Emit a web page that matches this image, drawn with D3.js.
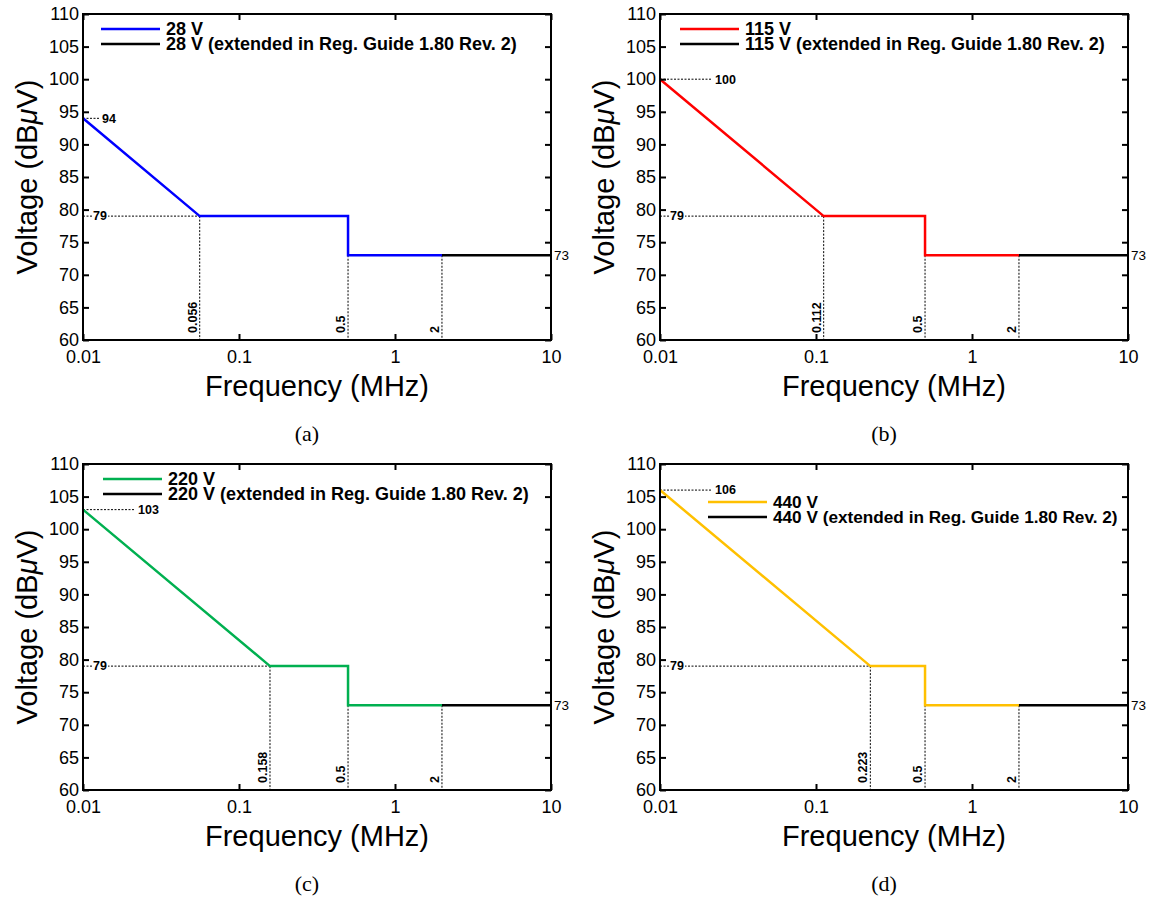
<!DOCTYPE html>
<html>
<head>
<meta charset="utf-8">
<script src="https://cdn.jsdelivr.net/npm/d3@7"></script>
<style>
  body { margin: 0; background: #fff; }
  svg { display: block; font-family: "Liberation Sans", Arial, Helvetica, sans-serif; }
</style>
</head>
<body>
<svg></svg>
<script>
// ---------- data ----------
const captions = ['(a)', '(b)', '(c)', '(d)'];
const voltages = ['28 V', '115 V', '220 V', '440 V'];
const startLevels = [94, 100, 103, 106];          // dBuV at 0.01 MHz
const cornerFreqs = [0.056, 0.112, 0.158, 0.223]; // MHz where the slope reaches 79
const seriesColors = ['#0000ff', '#ff0000', '#00b050', '#ffc000'];
const flatLevel = 79;
const stepFreq = 0.5;
const lowLevel = 73;
const extFreq = 2;
const freqRange = [0.01, 10];
const voltRange = [60, 110];
const xTicks = [0.01, 0.1, 1, 10];
const xTickLabels = ['0.01', '0.1', '1', '10'];
const yTicks = [60, 65, 70, 75, 80, 85, 90, 95, 100, 105, 110];

// ---------- layout ----------
const size = {w: 1149, h: 898};
const plot = {w: 468, h: 326};
const origins = [[83, 14], [660, 14], [83, 464], [660, 464]];
const legendPos = [[18, 15], [20, 15], [20, 15], [48, 38]];
const legendFont = [18, 18, 18, 17.2];
const startLabelLen = [16, 52, 52, 52];

const svg = d3.select('svg')
    .attr('width', size.w)
    .attr('height', size.h);

const x = d3.scaleLog().domain(freqRange).range([0, plot.w]);
const y = d3.scaleLinear().domain(voltRange).range([plot.h, 0]);

const line = d3.line()
    .x(d => x(d[0]))
    .y(d => y(d[1]));

captions.forEach((cap, i) => {
    const g = svg.append('g')
        .attr('transform', `translate(${origins[i][0]},${origins[i][1]})`);

    // limit curve, built from the values above
    const main = [
        [freqRange[0], startLevels[i]],
        [cornerFreqs[i], flatLevel],
        [stepFreq, flatLevel],
        [stepFreq, lowLevel],
        [extFreq, lowLevel]
    ];
    const ext = [[extFreq, lowLevel], [freqRange[1], lowLevel]];

    // dotted guide lines
    const guides = g.append('g')
        .attr('stroke', '#000')
        .attr('stroke-width', 1)
        .attr('stroke-dasharray', '2,1.5')
        .attr('fill', 'none');

    guides.append('line')
        .attr('x1', 0).attr('x2', startLabelLen[i])
        .attr('y1', y(startLevels[i])).attr('y2', y(startLevels[i]));
    guides.append('line')
        .attr('x1', 0).attr('x2', x(cornerFreqs[i]))
        .attr('y1', y(flatLevel)).attr('y2', y(flatLevel));

    const verticals = [
        {f: cornerFreqs[i], v: flatLevel},
        {f: stepFreq, v: lowLevel},
        {f: extFreq, v: lowLevel}
    ];
    guides.selectAll('.vguide')
        .data(verticals)
        .join('line')
        .attr('x1', d => x(d.f)).attr('x2', d => x(d.f))
        .attr('y1', d => y(d.v)).attr('y2', plot.h);

    g.selectAll('.vlabel')
        .data(verticals)
        .join('text')
        .attr('transform', d => `translate(${x(d.f) - 3},${plot.h - 7}) rotate(-90)`)
        .attr('font-size', 12.5)
        .attr('font-weight', 'bold')
        .text(d => d.f);

    // start level label
    g.append('text')
        .attr('x', startLabelLen[i] + 3)
        .attr('y', y(startLevels[i]))
        .attr('dy', '0.35em')
        .attr('font-size', 12.5)
        .attr('font-weight', 'bold')
        .text(startLevels[i]);

    // 79 label sitting on its dotted line
    g.append('rect')
        .attr('x', 9).attr('y', y(flatLevel) - 6)
        .attr('width', 16).attr('height', 12)
        .attr('fill', '#fff');
    g.append('text')
        .attr('x', 10)
        .attr('y', y(flatLevel))
        .attr('dy', '0.35em')
        .attr('font-size', 12.5)
        .attr('font-weight', 'bold')
        .text(flatLevel);

    // 73 label outside the right edge
    g.append('text')
        .attr('x', plot.w + 3)
        .attr('y', y(lowLevel))
        .attr('dy', '0.35em')
        .attr('font-size', 13.5)
        .text(lowLevel);

    // curves
    g.append('path')
        .attr('d', line(main))
        .attr('fill', 'none')
        .attr('stroke', seriesColors[i])
        .attr('stroke-width', 2.5);
    g.append('path')
        .attr('d', line(ext))
        .attr('fill', 'none')
        .attr('stroke', '#000')
        .attr('stroke-width', 2.5);

    // axes, ticks pointing inward on all four sides
    const axL = g.append('g')
        .call(d3.axisLeft(y).tickValues(yTicks).tickSize(-6).tickPadding(4));
    const axR = g.append('g')
        .attr('transform', `translate(${plot.w},0)`)
        .call(d3.axisRight(y).tickValues(yTicks).tickSize(-6).tickFormat(''));
    const axB = g.append('g')
        .attr('transform', `translate(0,${plot.h})`)
        .call(d3.axisBottom(x).tickValues(xTicks).tickSize(-6).tickPadding(10)
            .tickFormat((d, k) => xTickLabels[k]));
    const axT = g.append('g')
        .call(d3.axisTop(x).tickValues(xTicks).tickSize(-6).tickFormat(''));
    [axL, axR, axB, axT].forEach(ax => {
        ax.attr('font-family', null);
        ax.select('.domain').remove();
        ax.selectAll('line').attr('stroke-width', 2);
        ax.selectAll('text')
            .attr('font-size', 18)
            .attr('fill', '#000');
    });

    // frame
    g.append('rect')
        .attr('width', plot.w).attr('height', plot.h)
        .attr('fill', 'none')
        .attr('stroke', '#000')
        .attr('stroke-width', 2);

    // legend
    const lg = g.append('g')
        .attr('transform', `translate(${legendPos[i][0]},${legendPos[i][1]})`);
    const entries = [
        {c: seriesColors[i], t: voltages[i]},
        {c: '#000', t: voltages[i] + ' (extended in Reg. Guide 1.80 Rev. 2)'}
    ];
    entries.forEach((e, k) => {
        lg.append('line')
            .attr('x1', 0).attr('x2', 59)
            .attr('y1', k * 15).attr('y2', k * 15)
            .attr('stroke', e.c)
            .attr('stroke-width', 2.5);
        lg.append('text')
            .attr('x', 65)
            .attr('y', k * 15)
            .attr('dy', '0.36em')
            .attr('font-size', legendFont[i])
            .attr('font-weight', 'bold')
            .text(e.t);
    });

    // axis titles
    g.append('text')
        .attr('x', plot.w / 2)
        .attr('y', plot.h + 56)
        .attr('text-anchor', 'middle')
        .attr('font-size', 29)
        .text('Frequency (MHz)');

    const yt = g.append('text')
        .attr('transform', `translate(-46,${plot.h / 2}) rotate(-90)`)
        .attr('text-anchor', 'middle')
        .attr('font-size', 29);
    yt.append('tspan').text('Voltage (dB');
    yt.append('tspan').attr('font-style', 'italic').text('\u03bc');
    yt.append('tspan').text('V)');

    // panel caption
    g.append('text')
        .attr('x', plot.w / 2 - 10)
        .attr('y', plot.h + 101)
        .attr('text-anchor', 'middle')
        .style('font-family', '"Liberation Serif", "Times New Roman", serif')
        .attr('font-size', 22)
        .text(cap);
});
</script>
</body>
</html>
